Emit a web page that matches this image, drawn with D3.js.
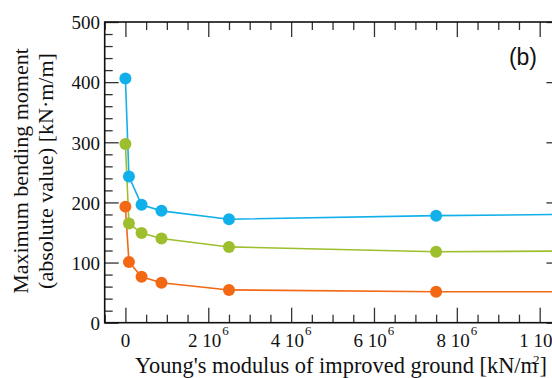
<!DOCTYPE html>
<html><head><meta charset="utf-8">
<script src="https://cdn.jsdelivr.net/npm/d3@7"></script>
<style>
html,body{margin:0;padding:0;background:#fff;}
svg{display:block;}
</style></head>
<body>
<svg id="chart" width="552" height="378"></svg>
<script>
// Young's modulus of improved ground [kN/m2]
const xValues = [0, 0.085e6, 0.39e6, 0.87e6, 2.5e6, 7.5e6, 10.5e6];
const seriesBlue = [406, 243, 196, 186, 172, 178, 180];
const seriesGreen = [297, 165, 149, 140, 126, 118, 119];
const seriesOrange = [193, 101, 76.5, 66.5, 54.5, 51.5, 51.5];
const xMajorTicks = [0, 2e6, 4e6, 6e6, 8e6, 10e6];
const xTickLabels = [["0", ""], ["2 10", "6"], ["4 10", "6"], ["6 10", "6"], ["8 10", "6"], ["1 10", "7"]];
const yMajorTicks = [0, 100, 200, 300, 400, 500];
const yTickLabels = ["0", "100", "200", "300", "400", "500"];

const series = [
  {name: "blue", values: seriesBlue, color: "#12b0ea"},
  {name: "green", values: seriesGreen, color: "#9dbf2e"},
  {name: "orange", values: seriesOrange, color: "#f26814"}
];

const svg = d3.select("#chart");
const L = 104.7, R = 560.4, T = 22, B = 322.7;
const x = d3.scaleLinear().domain([-0.5e6, 10.5e6]).range([L, R]);
const y = d3.scaleLinear().domain([0, 500]).range([B, T]);

const serif = "'Liberation Serif','Times New Roman',serif";

const xMinor = d3.range(-0.5e6, 10.5e6 + 1, 0.5e6).filter(v => xMajorTicks.indexOf(v) < 0);
const yMinor = d3.range(0, 501, 20).filter(v => yMajorTicks.indexOf(v) < 0);

function styleAxis(g) {
  g.select(".domain").remove();
  g.selectAll(".tick line").attr("stroke", "#333").attr("stroke-width", 1.3);
  g.selectAll(".tick text").remove();
}
// bottom
svg.append("g").attr("transform", `translate(0,${B})`)
  .call(d3.axisBottom(x).tickValues(xMajorTicks).tickSize(-15).tickFormat("")).call(styleAxis);
svg.append("g").attr("transform", `translate(0,${B})`)
  .call(d3.axisBottom(x).tickValues(xMinor).tickSize(-8).tickFormat("")).call(styleAxis);
// top
svg.append("g").attr("transform", `translate(0,${T})`)
  .call(d3.axisTop(x).tickValues(xMajorTicks).tickSize(-15).tickFormat("")).call(styleAxis);
svg.append("g").attr("transform", `translate(0,${T})`)
  .call(d3.axisTop(x).tickValues(xMinor).tickSize(-8).tickFormat("")).call(styleAxis);
// left
svg.append("g").attr("transform", `translate(${L},0)`)
  .call(d3.axisLeft(y).tickValues(yMajorTicks).tickSize(-14).tickFormat("")).call(styleAxis);
svg.append("g").attr("transform", `translate(${L},0)`)
  .call(d3.axisLeft(y).tickValues(yMinor).tickSize(-8).tickFormat("")).call(styleAxis);
// right
svg.append("g").attr("transform", `translate(${R},0)`)
  .call(d3.axisRight(y).tickValues(yMajorTicks).tickSize(-14).tickFormat("")).call(styleAxis);
svg.append("g").attr("transform", `translate(${R},0)`)
  .call(d3.axisRight(y).tickValues(yMinor).tickSize(-8).tickFormat("")).call(styleAxis);

// frame
svg.append("rect").attr("x", L).attr("y", T).attr("width", R - L).attr("height", B - T)
  .attr("fill", "none").attr("stroke", "#111").attr("stroke-width", 1.6);

// series
const line = d3.line().x((d, i) => x(xValues[i])).y(d => y(d));
series.forEach(s => {
  svg.append("path").datum(s.values).attr("d", line)
    .attr("fill", "none").attr("stroke", s.color).attr("stroke-width", 1.6);
});
series.forEach(s => {
  svg.append("g").selectAll("circle").data(s.values).join("circle")
    .attr("cx", (d, i) => x(xValues[i])).attr("cy", d => y(d)).attr("r", 6)
    .attr("fill", s.color);
});

// y tick labels
svg.append("g").selectAll("text").data(yMajorTicks).join("text")
  .attr("x", 100).attr("y", d => y(d)).attr("dy", "0.38em")
  .attr("text-anchor", "end").attr("font-family", serif).attr("font-size", 19)
  .attr("fill", "#111").text((d, i) => yTickLabels[i]);

// x tick labels
const xl = svg.append("g").selectAll("text").data(xMajorTicks).join("text")
  .attr("x", d => x(d)).attr("y", 347)
  .attr("text-anchor", "middle").attr("font-family", serif).attr("font-size", 19)
  .attr("fill", "#111");
xl.append("tspan").text((d, i) => xTickLabels[i][0]);
xl.append("tspan").attr("font-size", 13).attr("dx", 1).attr("dy", -12).text((d, i) => xTickLabels[i][1]);

// x title
const xt = svg.append("text").attr("x", 341).attr("y", 373).attr("text-anchor", "middle")
  .attr("font-family", serif).attr("font-size", 22.4).attr("fill", "#111");
xt.append("tspan").text("Young's modulus of improved ground [kN/m");
xt.append("tspan").attr("font-size", 13).attr("dx", -5).attr("dy", -9).text("2");
xt.append("tspan").attr("dy", 9).text("]");

// y title
const yt = svg.append("text").attr("transform", "translate(0,171) rotate(-90)")
  .attr("text-anchor", "middle").attr("font-family", serif).attr("font-size", 22).attr("fill", "#111");
yt.append("tspan").attr("x", 0).attr("y", 27.5).text("Maximum bending moment");
yt.append("tspan").attr("x", 0).attr("y", 53).text("(absolute value) [kN\u00B7m/m]");

// panel label
svg.append("text").attr("x", 537).attr("y", 65).attr("text-anchor", "end")
  .attr("font-family", "'Liberation Sans',Arial,sans-serif").attr("font-size", 23)
  .attr("fill", "#111").text("(b)");
</script>
</body></html>
